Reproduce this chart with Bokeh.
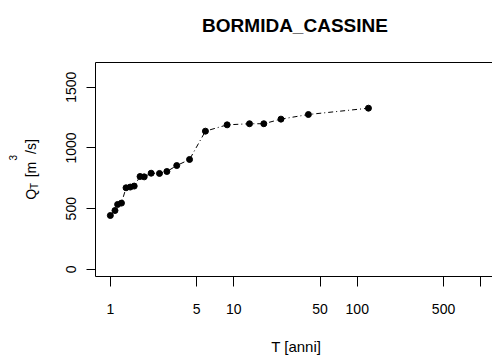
from bokeh.plotting import figure
from bokeh.models import Range1d, FixedTicker, LogAxis, Label
from bokeh.embed import file_html
from bokeh.resources import INLINE

# ---- data ----
title_text = "BORMIDA_CASSINE"
x_title = "T [anni]"
y_title_main = "Q\u00a0\u00a0\u00a0[m\u00a0\u00a0/s]"
y_title_sub = "T"
y_title_sup = "3"
T_years = [1.0, 1.09, 1.145, 1.23, 1.34, 1.45, 1.56, 1.74, 1.88, 2.14, 2.5, 2.87,
           3.45, 4.38, 5.89, 8.83, 13.4, 17.5, 24.1, 40.2, 123.2]
Q_values = [444, 485, 535, 546, 672, 678, 686, 765, 762, 792, 790, 806,
            855, 905, 1138, 1190, 1199, 1199, 1237, 1275, 1327]
x_ticks = [1, 5, 10, 50, 100, 500, 1000]
x_tick_labels = ["1", "5", "10", "50", "100", "500", ""]
y_ticks = [0, 500, 1000, 1500]
y_tick_labels = ["0", "500", "1000", "1500"]

FONT = "Liberation Sans"
W, H = 492, 361
LB, TB, BB = 91, 62, 85

p = figure(width=W, height=H, x_axis_type="log",
           x_range=Range1d(0.758, 1246), y_range=Range1d(-58, 1703),
           output_backend="svg", toolbar_location=None,
           min_border_left=LB, min_border_right=0,
           min_border_top=TB, min_border_bottom=BB)
p.xgrid.visible = False
p.ygrid.visible = False
p.outline_line_color = None
p.background_fill_color = "white"
p.border_fill_color = "white"

xa = p.xaxis[0]
xa.ticker = FixedTicker(ticks=x_ticks, minor_ticks=[])
xa.major_label_overrides = {t: l for t, l in zip(x_ticks, x_tick_labels)}
xa.major_tick_out = 10
xa.major_tick_in = 0
xa.minor_tick_out = 0
xa.minor_tick_in = 0
xa.major_label_standoff = 17
xa.major_label_text_font = FONT
xa.major_label_text_font_size = "14px"
xa.major_label_text_color = "black"
xa.axis_line_color = "black"
xa.major_tick_line_color = "black"

ya = p.yaxis[0]
ya.ticker = FixedTicker(ticks=y_ticks, minor_ticks=[])
ya.major_label_overrides = {t: l for t, l in zip(y_ticks, y_tick_labels)}
ya.major_label_orientation = "vertical"
ya.major_tick_out = 9
ya.major_tick_in = 0
ya.minor_tick_out = 0
ya.minor_tick_in = 0
ya.major_label_standoff = 10
ya.major_label_text_font = FONT
ya.major_label_text_font_size = "14px"
ya.major_label_text_color = "black"
ya.axis_line_color = "black"
ya.major_tick_line_color = "black"
ya.axis_label = y_title_main
ya.axis_label_text_font = FONT
ya.axis_label_text_font_size = "14px"
ya.axis_label_text_font_style = "normal"
ya.axis_label_text_color = "black"
ya.axis_label_standoff = 25

top_axis = LogAxis(ticker=FixedTicker(ticks=[], minor_ticks=[]),
                   major_tick_out=0, major_tick_in=0,
                   minor_tick_out=0, minor_tick_in=0,
                   major_label_text_font_size="0px",
                   axis_line_color="black")
p.add_layout(top_axis, "above")

p.line(T_years, Q_values, line_color="black", line_width=1, line_dash="5 3 1 3")
p.scatter(T_years, Q_values, marker="circle", size=6,
          fill_color="black", line_color="black")

p.add_layout(Label(x=199.5, y=37, x_units="screen", y_units="screen",
                   text=title_text, text_align="center", text_baseline="alphabetic",
                   text_font=FONT, text_font_style="bold", text_font_size="19px",
                   text_color="black"), "above")
p.add_layout(Label(x=200.7, y=-13, x_units="screen", y_units="screen",
                   text=x_title, text_align="center", text_baseline="alphabetic",
                   text_font=FONT, text_font_size="15px", text_color="black"), "below")

# subscript / superscript pieces of the y-axis title
p.add_layout(Label(x=26, y=87.5, x_units="screen", y_units="screen",
                   text=y_title_sub, angle=1.5707963, text_align="left",
                   text_baseline="alphabetic", text_font=FONT,
                   text_font_size="10px", text_color="black"), "left")
p.add_layout(Label(x=12, y=115.9, x_units="screen", y_units="screen",
                   text=y_title_sup, angle=1.5707963, text_align="left",
                   text_baseline="alphabetic", text_font=FONT,
                   text_font_size="10px", text_color="black"), "left")

open("out.html", "w").write(file_html(p, INLINE))
